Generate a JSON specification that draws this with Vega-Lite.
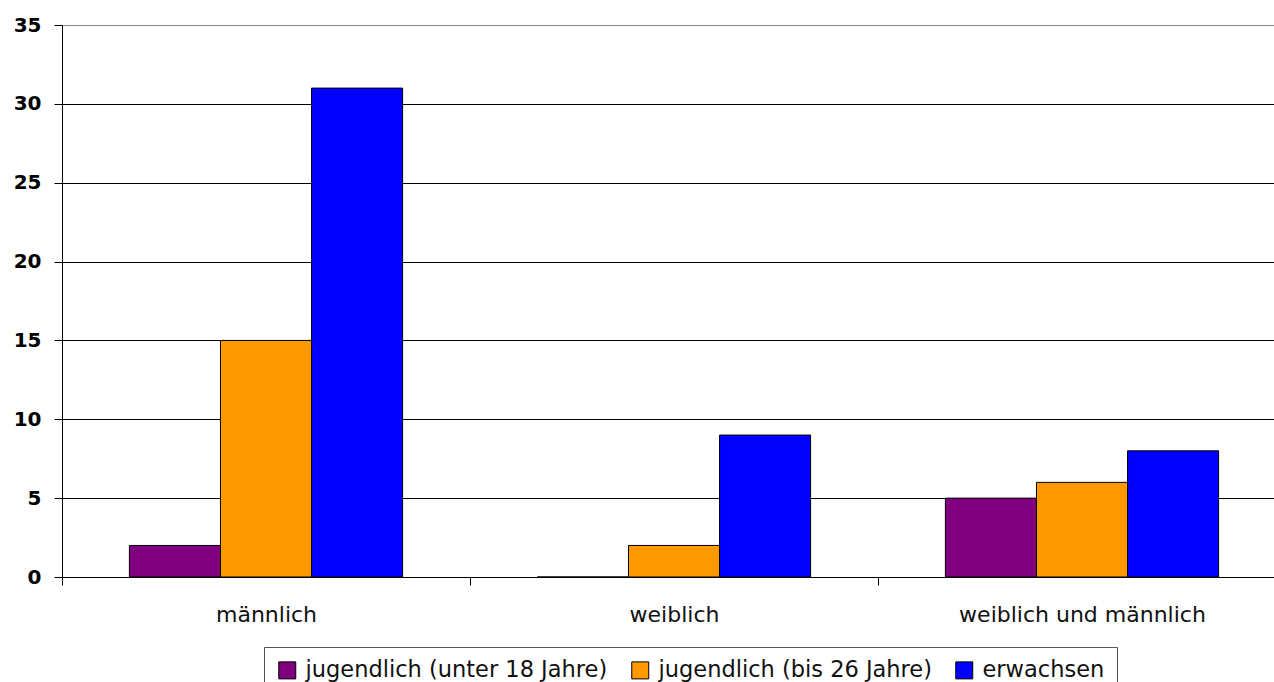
{
  "$schema": "https://vega.github.io/schema/vega-lite/v6.json",
  "autosize": "none",
  "padding": {"left": 62, "top": 25, "right": 0, "bottom": 105},
  "width": 1212,
  "height": 552,
  "background": "white",
  "config": {
    "view": {"stroke": null},
    "font": "DejaVu Sans"
  },
  "data": {
    "values": [
      {"gruppe": "männlich", "alter": "jugendlich (unter 18 Jahre)", "anzahl": 2},
      {"gruppe": "männlich", "alter": "jugendlich (bis 26 Jahre)", "anzahl": 15},
      {"gruppe": "männlich", "alter": "erwachsen", "anzahl": 31},
      {"gruppe": "weiblich", "alter": "jugendlich (unter 18 Jahre)", "anzahl": 0},
      {"gruppe": "weiblich", "alter": "jugendlich (bis 26 Jahre)", "anzahl": 2},
      {"gruppe": "weiblich", "alter": "erwachsen", "anzahl": 9},
      {"gruppe": "weiblich und männlich", "alter": "jugendlich (unter 18 Jahre)", "anzahl": 5},
      {"gruppe": "weiblich und männlich", "alter": "jugendlich (bis 26 Jahre)", "anzahl": 6},
      {"gruppe": "weiblich und männlich", "alter": "erwachsen", "anzahl": 8}
    ]
  },
  "mark": {"type": "bar", "stroke": "black", "strokeWidth": 1},
  "encoding": {
    "x": {
      "field": "gruppe",
      "type": "nominal",
      "sort": ["männlich", "weiblich", "weiblich und männlich"],
      "scale": {"paddingInner": 0, "paddingOuter": 0, "range": [0, 1224]},
      "axis": {
        "title": null,
        "labelAngle": 0,
        "labelFont": "DejaVu Sans",
        "labelFontSize": 22,
        "labelColor": "#111",
        "labelPadding": 19,
        "labelLimit": 500,
        "tickBand": "extent",
        "tickSize": 8,
        "tickColor": "black",
        "domainColor": "black",
        "grid": false
      }
    },
    "xOffset": {
      "field": "alter",
      "type": "nominal",
      "sort": ["jugendlich (unter 18 Jahre)", "jugendlich (bis 26 Jahre)", "erwachsen"],
      "scale": {"paddingInner": 0, "paddingOuter": 0.74}
    },
    "y": {
      "field": "anzahl",
      "type": "quantitative",
      "scale": {"domain": [0, 35], "nice": false},
      "axis": {
        "title": null,
        "values": [0, 5, 10, 15, 20, 25, 30, 35],
        "labelFont": "DejaVu Sans",
        "labelFontSize": 20,
        "labelFontWeight": "bold",
        "labelColor": "black",
        "labelPadding": 13,
        "tickSize": 8,
        "tickColor": "black",
        "domainColor": "black",
        "grid": true,
        "gridColor": {"condition": {"test": "datum.value == 35", "value": "#888888"}, "value": "black"},
        "gridWidth": 1,
        "gridOpacity": 1
      }
    },
    "color": {
      "field": "alter",
      "type": "nominal",
      "scale": {
        "domain": ["jugendlich (unter 18 Jahre)", "jugendlich (bis 26 Jahre)", "erwachsen"],
        "range": ["#800080", "#FF9900", "#0000FF"]
      },
      "legend": {
        "title": null,
        "orient": "none",
        "direction": "horizontal",
        "legendX": 202,
        "legendY": 622,
        "padding": 12,
        "strokeColor": "#555",
        "fillColor": "white",
        "symbolType": "square",
        "symbolSize": 289,
        "symbolStrokeColor": "black",
        "symbolStrokeWidth": 1,
        "symbolOpacity": 1,
        "labelFont": "DejaVu Sans",
        "labelFontSize": 22.5,
        "labelColor": "#111",
        "labelOffset": 7,
        "columnPadding": 21,
        "labelLimit": 400
      }
    }
  }
}
